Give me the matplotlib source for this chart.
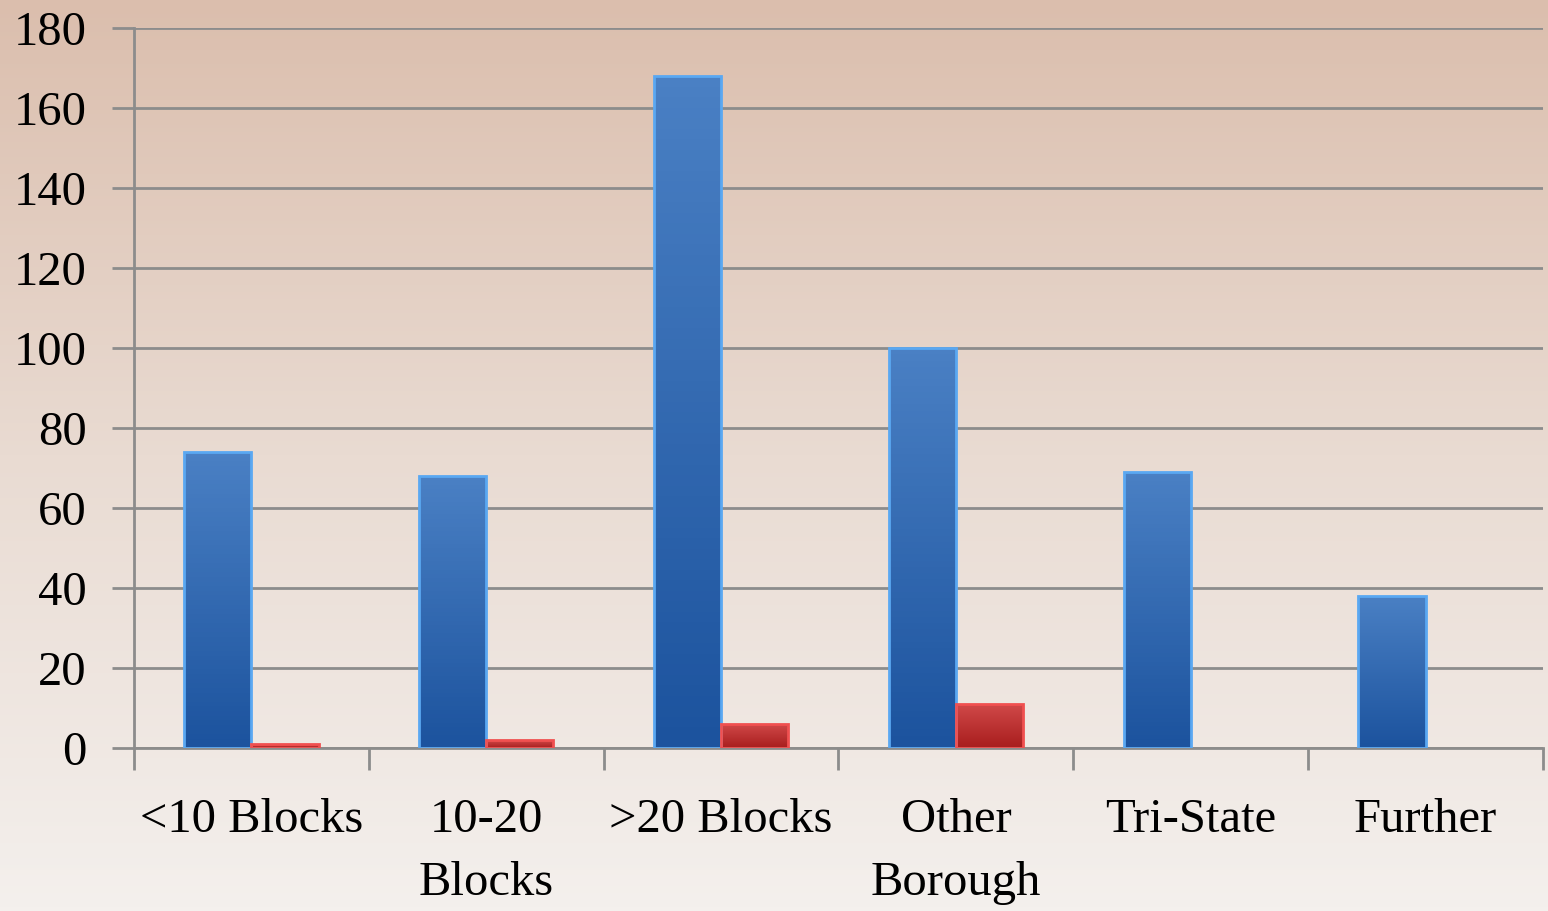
import numpy as np
import matplotlib.pyplot as plt
from matplotlib.colors import LinearSegmentedColormap

categories = ["<10 Blocks", "10-20\nBlocks", ">20 Blocks", "Other\nBorough", "Tri-State", "Further"]
blue_values = [74, 68, 168, 100, 69, 38]
red_values = [1, 2, 6, 11, 0, 0]

plt.rcParams["font.family"] = ["Liberation Serif", "DejaVu Serif"]

fig = plt.figure(figsize=(15.48, 9.11), dpi=100)

# background gradient
bg = fig.add_axes([0, 0, 1, 1], zorder=-10)
bg_cmap = LinearSegmentedColormap.from_list("bg", ["#dbbead", "#e9dbd2", "#f4f0ed"])
bg.imshow(np.linspace(0, 1, 256).reshape(-1, 1), aspect="auto", cmap=bg_cmap,
          extent=[0, 1, 0, 1])
bg.axis("off")

ax = fig.add_axes([134 / 1548, 1 - 748 / 911, 1409 / 1548, 720 / 911])
ax.patch.set_alpha(0)

x = np.arange(len(categories))
w = 0.286

blue_cmap = LinearSegmentedColormap.from_list("bl", ["#1c539e", "#4a80c4"])
red_cmap = LinearSegmentedColormap.from_list("rd", ["#a81e1e", "#d04848"])


def grad_bars(xs, vals, cmap, edge):
    bars = ax.bar(xs, vals, width=w, color="none", edgecolor=edge, linewidth=2, zorder=3)
    for b in bars:
        if b.get_height() <= 0:
            b.set_edgecolor("none")
            continue
        x0, y0 = b.get_x(), b.get_y()
        img = ax.imshow(np.linspace(0, 1, 64).reshape(-1, 1), cmap=cmap, aspect="auto",
                        extent=[x0, x0 + b.get_width(), y0, y0 + b.get_height()],
                        origin="lower", zorder=2)
        img.set_clip_path(b)
    return bars


grad_bars(x - w / 2, blue_values, blue_cmap, "#5aa8f2")
grad_bars(x + w / 2, red_values, red_cmap, "#f05050")

ax.set_xlim(-0.5, len(categories) - 0.5)
ax.set_ylim(0, 180)
ax.set_yticks(range(0, 181, 20))
ax.grid(axis="y", color="#8c8c8c", linewidth=2)
ax.set_axisbelow(True)

ax.set_xticks(np.arange(-0.5, len(categories), 1))
ax.set_xticklabels([])
ax.set_xticks(x, minor=True)
ax.set_xticklabels(categories, minor=True, fontsize=35, linespacing=1.55)
ax.tick_params(axis="x", which="major", length=16, width=2, color="#8c8c8c")
ax.tick_params(axis="x", which="minor", length=0, pad=36)
ax.tick_params(axis="y", length=16, width=2, color="#8c8c8c", labelsize=35, pad=18)

for s in ["top", "right"]:
    ax.spines[s].set_visible(False)
for s in ["left", "bottom"]:
    ax.spines[s].set_color("#8c8c8c")
    ax.spines[s].set_linewidth(2)

fig.savefig("out.png", dpi=100)
